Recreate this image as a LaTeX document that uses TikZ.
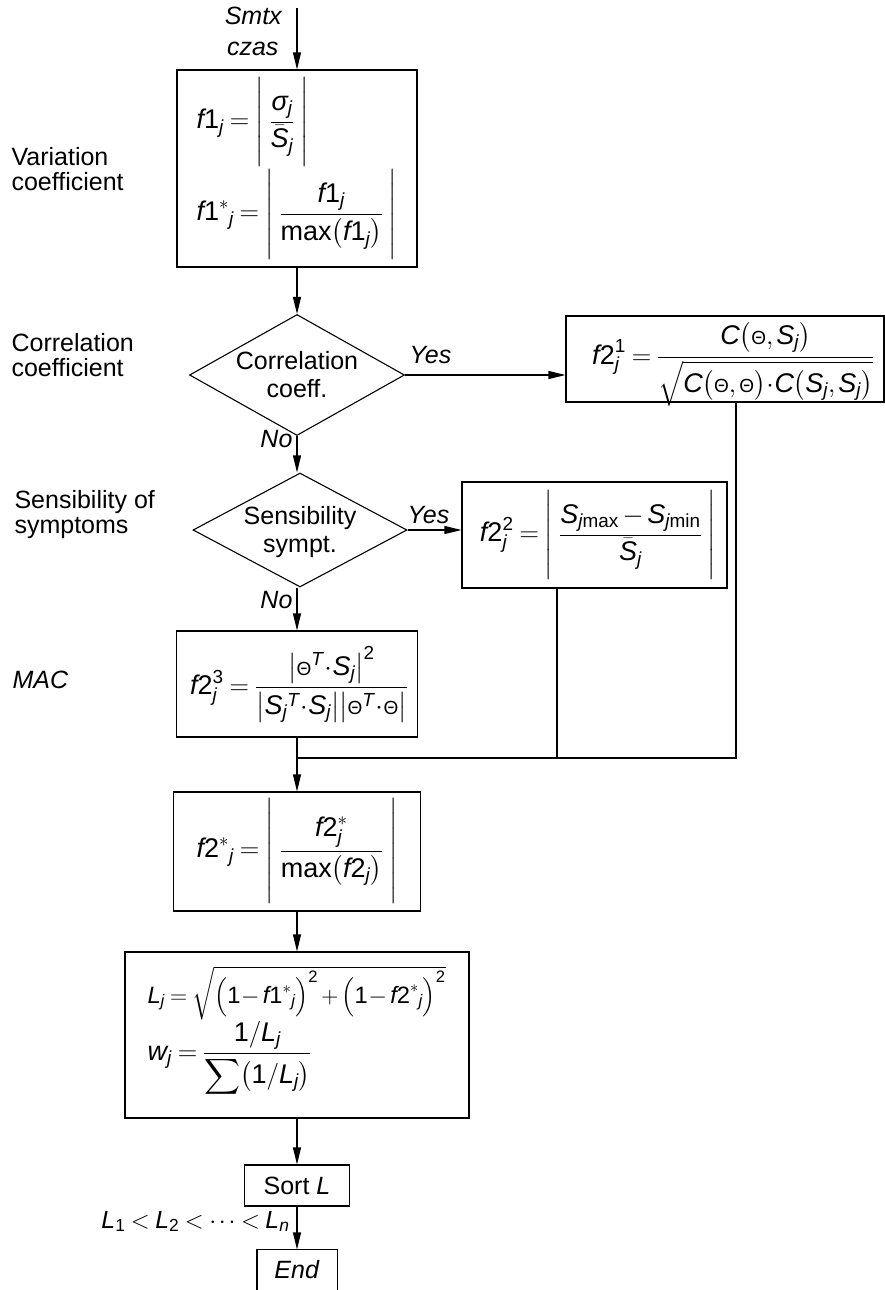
\RequirePackage{fix-cm}
\documentclass[tikz,border=0pt]{standalone}
\usepackage{amsmath}
\usepackage{graphicx}
\usepackage{fontspec}
\setmainfont{Liberation Sans}
\usetikzlibrary{shapes.geometric,arrows.meta}
\newcommand\Vt[1]{\textit{#1}}
\newcommand\Nt[1]{\text{#1}}
\newcommand\ThS{\text{\fontsize{19}{19}\selectfont Θ}}
\newcommand\BarS[2]{\vrule height #1pt depth #2pt width 0pt}
\thickmuskip=4mu plus 2mu\relax
\medmuskip=2.5mu plus 1mu\relax
\thinmuskip=2mu\relax
\begin{document}
\begin{tikzpicture}[x=1pt,y=-1pt, font=\fontsize{25}{25}\selectfont, line width=1.1pt,
  box/.style={draw, inner sep=0pt},
  dec/.style={draw, diamond, inner sep=0pt},
  arr/.style={-{Triangle[length=17pt,width=8pt]}},
  lab/.style={inner sep=0pt},
  dtx/.style={inner sep=0pt, align=center, font=\fontsize{25}{28}\selectfont},
  fm/.style={inner sep=0pt, font=\fontsize{27}{27}\selectfont}]
\useasboundingbox (0,0) rectangle (885,1290);
% boxes
\node[box, minimum width=240pt, minimum height=197pt] (b1) at (297,168.5) {};
\node[fm, anchor=west] (f11) at (196,122) {$\Vt{f}\Nt{1}_{\Vt{j}}=\left|\BarS{48}{34}\;\dfrac{\Vt{σ}_{\Vt{j}}}{\bar{\Vt{S}}_{\Vt{j}}}\;\right|$};
\node[fm, anchor=west] (f12) at (196,214) {$\Vt{f}\Nt{1}^{*}{}_{\Vt{j}}=\left|\BarS{52}{38}\;\dfrac{\Vt{f}\Nt{1}_{\Vt{j}}}{\Nt{max}\bigl(\Vt{f}\Nt{1}_{\Vt{j}}\bigr)}\;\right|$};
\node[dec, minimum width=215pt, minimum height=121pt] (d1) at (297,375) {};
\node[dtx] (d1t) at (297,375) {Correlation\\coeff.};
\node[box, minimum width=318pt, minimum height=86pt] (b21) at (725,359) {};
\node[fm] (f21) at (733,364) {$\Vt{f}\Nt{2}^{\Nt{1}}_{\Vt{j}}=\dfrac{\Vt{C}\bigl(\ThS,\Vt{S}_{\Vt{j}}\bigr)}{\sqrt{\Vt{C}\bigl(\ThS,\ThS\bigr)\mkern-2mu\cdot\mkern-2mu\Vt{C}\bigl(\Vt{S}_{\Vt{j}},\Vt{S}_{\Vt{j}}\bigr)}}$};
\node[dec, minimum width=214pt, minimum height=114pt] (d2) at (300,530) {};
\node[dtx] (d2t) at (300,532) {Sensibility\\sympt.};
\node[box, minimum width=265pt, minimum height=106pt] (b22) at (594.5,535) {};
\node[fm] (f22) at (598,535) {$\Vt{f}\Nt{2}^{\Nt{2}}_{\Vt{j}}=\left|\BarS{47}{33}\;\dfrac{\Vt{S}_{\Vt{j}\Nt{max}}-\Vt{S}_{\Vt{j}\Nt{min}}}{\bar{\Vt{S}}_{\Vt{j}}}\;\right|$};
\node[box, minimum width=241pt, minimum height=106pt] (b23) at (297,684) {};
\node[fm] (f23) at (299,685) {$\Vt{f}\Nt{2}^{\Nt{3}}_{\Vt{j}}=\dfrac{\bigl|\ThS^{\Vt{T}}\mkern-2mu\cdot\mkern-2mu\Vt{S}_{\Vt{j}}\bigr|^{\Nt{2}}}{\bigl|\Vt{S}_{\Vt{j}}{}^{\Vt{T}}\mkern-2mu\cdot\mkern-2mu\Vt{S}_{\Vt{j}}\bigr|\bigl|\ThS^{\Vt{T}}\mkern-2mu\cdot\mkern-2mu\ThS\bigr|}$};
\node[box, minimum width=247pt, minimum height=119pt] (b2s) at (297,851.5) {};
\node[fm] (f2s) at (297,851) {$\Vt{f}\Nt{2}^{*}{}_{\Vt{j}}=\left|\BarS{55}{41}\;\dfrac{\Vt{f}\Nt{2}^{*}_{\Vt{j}}}{\Nt{max}\bigl(\Vt{f}\Nt{2}_{\Vt{j}}\bigr)}\;\right|$};
\node[box, minimum width=344pt, minimum height=166pt] (bL) at (297,1035) {};
\node[fm, anchor=base west] (fL) at (147,1003) {\resizebox{298pt}{!}{$\Vt{L}_{\Vt{j}}=\sqrt{\Bigl(\Nt{1}\mkern-2mu-\Vt{f}\Nt{1}^{*}{}_{\Vt{j}}\Bigr)^{\Nt{2}}+\Bigl(\Nt{1}\mkern-2mu-\Vt{f}\Nt{2}^{*}{}_{\Vt{j}}\Bigr)^{\Nt{2}}}$}};
\node[fm, anchor=base west] (fw) at (147,1060) {$\Vt{w}_{\Vt{j}}=\dfrac{\Nt{1}/\Vt{L}_{\Vt{j}}}{\displaystyle\sum\bigl(\Nt{1}/\Vt{L}_{\Vt{j}}\bigr)}$};
\node[box, minimum width=105pt, minimum height=41pt] (sort) at (297,1185.5) {Sort \textit{L}};
\node[lab, minimum width=79pt, minimum height=40pt] (end) at (297,1270) {\textit{End}};
\draw (end.south west) -- (end.north west) -- (end.north east) -- (end.south east);
% connectors
\coordinate (in) at (297,8);
\draw[arr] (in) -- (b1.north);
\draw[arr] (b1.south) -- (d1.north);
\draw[arr] (d1.east) -- (d1.east -| b21.west);
\draw[arr] (d1.south) -- (d2.north -| d1.south);
\draw[arr] (d2.east) -- (d2.east -| b22.west);
\draw[arr] (d2.south -| d1.south) -- (b23.north);
\coordinate (m0) at (297,758);
\coordinate (m1) at (736,758);
\coordinate (m2) at (557,758);
\draw (b21.south -| m1) -- (m1) -- (m0);
\draw (b22.south -| m2) -- (m2);
\draw[arr] (b23.south) -- (b2s.north);
\draw[arr] (b2s.south) -- (bL.north);
\draw[arr] (bL.south) -- (sort.north);
\draw[arr] (sort.south) -- (end.north);
% labels
\node[lab, anchor=base west] (yes1) at (409,363) {\textit{Yes}};
\node[lab, anchor=base west] (yes2) at (407,523) {\textit{Yes}};
\node[lab, anchor=base east] (no1) at (293,447) {\textit{No}};
\node[lab, anchor=base east] (no2) at (293,608) {\textit{No}};
\node[lab, anchor=base east] (smtx) at (283,25) {\textit{Smtx}};
\node[lab, anchor=base east] (czas) at (279,56) {\textit{czas}};
\node[fm, anchor=base east] (lord) at (290,1228) {\resizebox{188pt}{!}{$\Vt{L}_{\Nt{1}}<\Vt{L}_{\Nt{2}}<\cdots<\Vt{L}_{\Vt{n}}$}};
\node[lab, anchor=base west] (t1a) at (11,165) {Variation};
\node[lab, anchor=base west] (t1b) at (11,190) {coefficient};
\node[lab, anchor=base west] (t2a) at (11,351) {Correlation};
\node[lab, anchor=base west] (t2b) at (11,376) {coefficient};
\node[lab, anchor=base west] (t3a) at (14,508) {Sensibility of};
\node[lab, anchor=base west] (t3b) at (14,533) {symptoms};
\node[lab, anchor=base west] (t4) at (12,688) {\textit{MAC}};
\end{tikzpicture}
\end{document}
